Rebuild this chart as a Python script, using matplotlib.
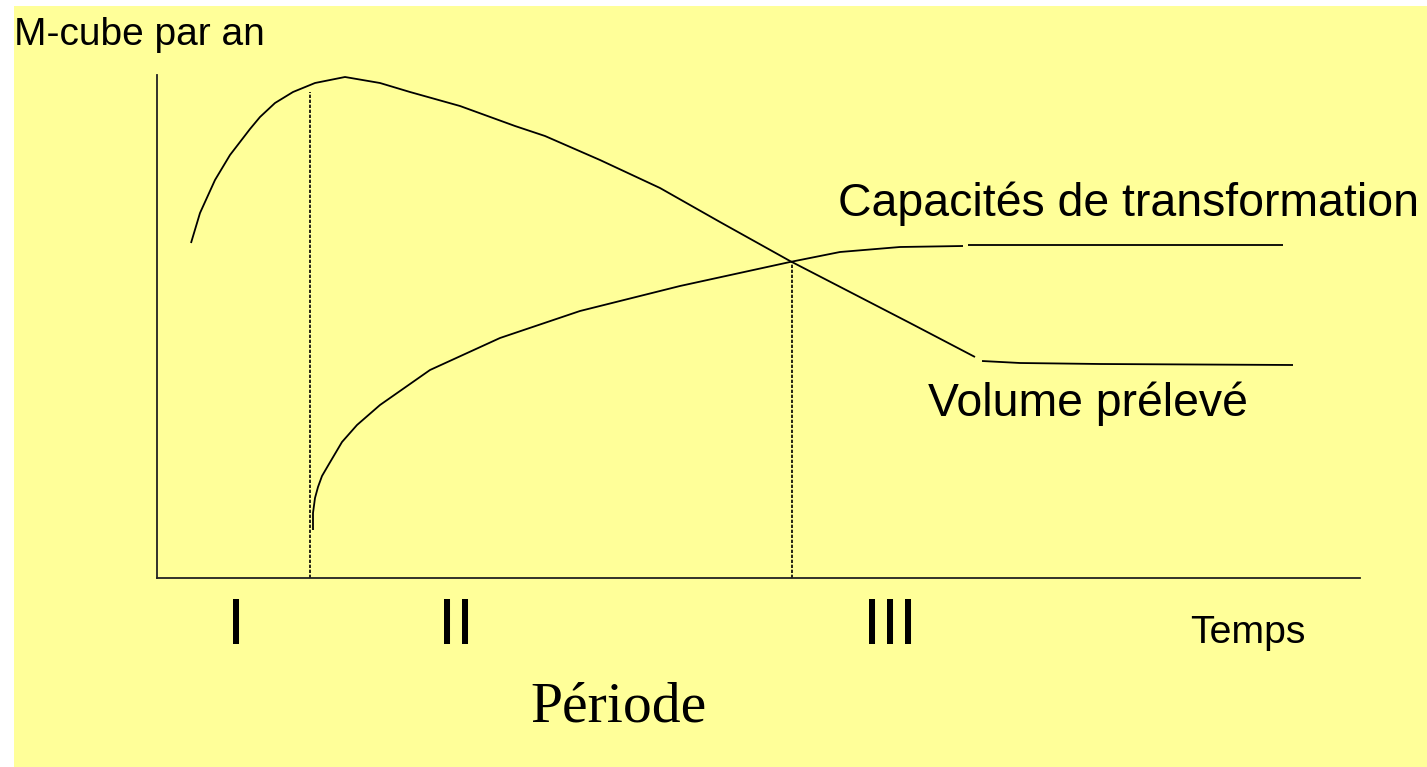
import matplotlib
matplotlib.use("Agg")
import matplotlib.pyplot as plt
from matplotlib.patches import Rectangle

W, H = 1427, 767

# axes frame in figure pixels (origin and ends of the two axis lines)
X0, Y0, X1, Y1 = 157, 578, 1360, 75

# curves, as (time, volume) in axis units (1 unit = 1 px from origin)
vol_t = [34, 43, 58, 73, 93, 103, 118, 136, 158, 188, 223, 253, 303, 358, 388, 443, 503, 563, 633, 693, 753, 818]
vol_v = [335, 365, 398, 423, 449, 461, 475, 486, 495, 501, 495, 486, 472, 452, 442, 418, 390, 356, 317, 286, 255, 221]
vol_tail_t = [825, 863, 943, 1136]
vol_tail_v = [217, 215, 214, 213]

cap_t = [156, 156, 158, 161, 165, 172, 185, 200, 223, 273, 343, 423, 523, 633, 683, 743, 806]
cap_v = [48, 65, 80, 91, 102, 114, 136, 153, 173, 208, 240, 267, 292, 316, 326, 331, 332]
cap_tail_t = [811, 1126]
cap_tail_v = [333, 333]

# period boundaries: (time, top of the dotted line)
bounds_t = [153, 635]
bounds_top = [486, 316]

periods = ["I", "II", "III"]
period_x = [236, 456, 890]

fig = plt.figure(figsize=(W / 100, H / 100), dpi=100)
fig.patch.set_facecolor("white")
fig.add_artist(Rectangle((14 / W, 0), 1 - 14 / W, 1 - 6 / H, transform=fig.transFigure,
                         facecolor="#FFFF99", edgecolor="none", zorder=0))

ax = fig.add_axes([X0 / W, 1 - Y0 / H, (X1 - X0) / W, (Y0 - Y1) / H])
ax.set_xlim(0, X1 - X0)
ax.set_ylim(0, Y0 - Y1)
ax.patch.set_alpha(0)
for s in ["top", "right"]:
    ax.spines[s].set_visible(False)
for s in ["left", "bottom"]:
    ax.spines[s].set_linewidth(1.3)
    ax.spines[s].set_color("#222222")
ax.set_xticks([])
ax.set_yticks([])

lk = dict(color="black", lw=1.3, solid_capstyle="butt")
ax.plot(vol_t, vol_v, **lk)
ax.plot(vol_tail_t, vol_tail_v, **lk)
ax.plot(cap_t, cap_v, **lk)
ax.plot(cap_tail_t, cap_tail_v, **lk)
for t, top in zip(bounds_t, bounds_top):
    ax.plot([t, t], [0, top], color="black", lw=1.2, linestyle=(0, (2, 1)))


def fx(px):
    return px / W


def fy(py):
    return 1 - py / H


sans = "Liberation Sans"
fig.text(fx(14), fy(45), "M-cube par an", fontsize=28, family=sans, va="baseline")
fig.text(fx(838), fy(216), "Capacités de transformation", fontsize=33.4, family=sans, va="baseline")
fig.text(fx(928), fy(416), "Volume prélevé", fontsize=33.4, family=sans, va="baseline")
fig.text(fx(1190), fy(643), "Temps", fontsize=28.3, family=sans, va="baseline")
for lab, x in zip(periods, period_x):
    fig.text(fx(x), fy(644), lab, fontsize=47, family=sans, va="baseline", ha="center")
fig.text(fx(530), fy(722), "Période", fontsize=41.5, family="Liberation Serif", va="baseline")

fig.savefig("out.png", dpi=100)
